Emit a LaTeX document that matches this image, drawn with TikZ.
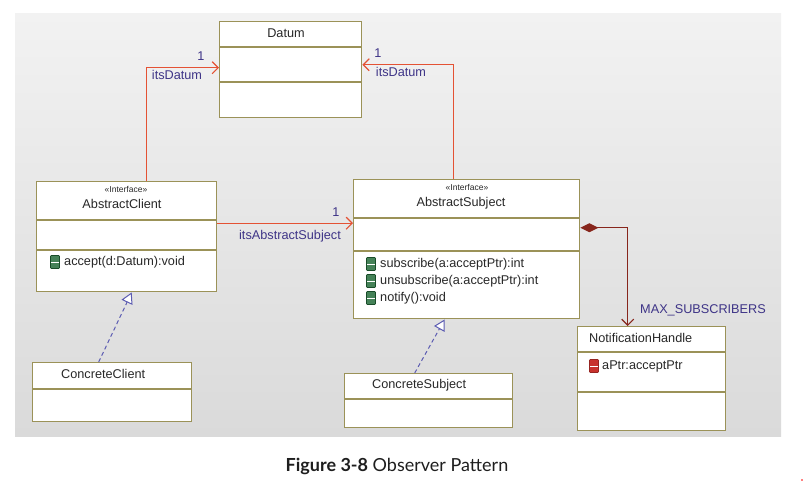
\documentclass[tikz,border=0pt]{standalone}
\usepackage{fontspec}
\setmainfont{Liberation Sans}
\newfontfamily\capfont{Lato}
\usetikzlibrary{arrows.meta}
\definecolor{boxline}{RGB}{155,146,88}
\definecolor{redconn}{RGB}{228,82,52}
\definecolor{darkred}{RGB}{135,38,28}
\definecolor{lblue}{RGB}{62,52,135}
\definecolor{dashblue}{RGB}{92,92,178}
\definecolor{txt}{RGB}{40,40,40}
\definecolor{opgreen}{RGB}{36,108,58}
\definecolor{attred}{RGB}{200,50,45}
\begin{document}
\begin{tikzpicture}[x=1pt,y=-1pt,
  classbox/.style={draw=boxline,line width=1.4pt,fill=white,inner sep=0pt,anchor=north west},
  sep/.style={draw=boxline,line width=1.2pt},
  nm/.style={text=txt,inner sep=0pt,font=\fontsize{12.7}{14}\selectfont},
  stereo/.style={text=txt,inner sep=0pt,font=\fontsize{8.5}{10}\selectfont},
  lbl/.style={text=lblue,inner sep=0pt,font=\fontsize{12.7}{14}\selectfont},
  assoc/.style={draw=redconn,line width=1.2pt,-{Straight Barb[length=6pt,width=12pt,line width=1.2pt]}},
  compo/.style={draw=darkred,line width=1.2pt,{Diamond[length=18pt,width=9pt,fill=darkred]}-{Straight Barb[length=6pt,width=12pt,line width=1.2pt]}},
  realize/.style={draw=dashblue,line width=1pt,dash pattern=on 4pt off 3pt,-{Triangle[open,length=11pt,width=12pt,line width=1pt,fill=white]}},
  opicon/.pic={\filldraw[fill=opgreen!85!white,draw=opgreen!70!black,line width=0.6pt,rounded corners=0.7pt] (-4.5,-6.5) rectangle (4.5,6.5);
               \draw[white,line width=1.5pt] (-3.8,0.3) -- (3.8,0.3);},
  aticon/.pic={\filldraw[fill=attred,draw=attred!75!black,line width=0.6pt,rounded corners=0.7pt] (-4.5,-6.5) rectangle (4.5,6.5);
               \draw[white,line width=1.5pt] (-3.8,0.3) -- (3.8,0.3);}
]
\useasboundingbox (0,0) rectangle (804,493);
\fill[white] (0,0) rectangle (804,493);
\shade[top color={rgb,255:red,242;green,242;blue,242},bottom color={rgb,255:red,218;green,218;blue,218}] (15,13) rectangle (781,436);

% Datum
\node[classbox,minimum width=142pt,minimum height=96pt] (datum) at (219,21) {};
\draw[sep] (219,47) -- (361,47);
\draw[sep] (219,82) -- (361,82);
\node[nm] (datumname) at (286,33) {Datum};

% AbstractClient
\node[classbox,minimum width=180pt,minimum height=110pt] (aclient) at (36,181) {};
\draw[sep] (36,220) -- (216,220);
\draw[sep] (36,250) -- (216,250);
\node[stereo] (acst) at (126,189) {«Interface»};
\node[nm] (acname) at (122,204) {AbstractClient};
\pic at (55,262) {opicon};
\node[nm,anchor=west] (acop) at (64,262) {accept(d:Datum):void};

% AbstractSubject
\node[classbox,minimum width=226pt,minimum height=139pt] (asubj) at (353,179) {};
\draw[sep] (353,218) -- (579,218);
\draw[sep] (353,251) -- (579,251);
\node[stereo] (asst) at (467,187) {«Interface»};
\node[nm] (asname) at (461,203) {AbstractSubject};
\pic at (371,264) {opicon};
\pic at (371,281) {opicon};
\pic at (371,298) {opicon};
\node[nm,anchor=west] (asop1) at (380,264) {subscribe(a:acceptPtr):int};
\node[nm,anchor=west] (asop2) at (380,281) {unsubscribe(a:acceptPtr):int};
\node[nm,anchor=west] (asop3) at (380,298) {notify():void};

% NotificationHandle
\node[classbox,minimum width=148pt,minimum height=104pt] (notif) at (577,326) {};
\draw[sep] (577,352) -- (725,352);
\draw[sep] (577,392) -- (725,392);
\node[nm,anchor=west] (nhname) at (589,338) {NotificationHandle};
\pic at (594,366) {aticon};
\node[nm,anchor=west] (nhat) at (602,366) {aPtr:acceptPtr};

% ConcreteClient
\node[classbox,minimum width=159pt,minimum height=59pt] (cclient) at (32,362) {};
\draw[sep] (32,389) -- (191,389);
\node[nm,anchor=west] (ccname) at (61,374) {ConcreteClient};

% ConcreteSubject
\node[classbox,minimum width=168pt,minimum height=54pt] (csubj) at (344,373) {};
\draw[sep] (344,399) -- (512,399);
\node[nm,anchor=west] (csname) at (372,385) {ConcreteSubject};

% associations to Datum
\draw[assoc] ([xshift=20pt]aclient.north) |- ([yshift=2pt]datum.west);
\node[lbl] (l1a) at (201,56) {1};
\node[lbl] (l1b) at (177,75) {itsDatum};
\draw[assoc] ([xshift=-13pt]asubj.north) |- ([yshift=5pt]datum.east);
\node[lbl] (l2a) at (378,53) {1};
\node[lbl] (l2b) at (401,72) {itsDatum};

% AbstractClient -> AbstractSubject
\coordinate (acr) at ([yshift=13.5pt]aclient.east);
\draw[assoc] (acr) -- (acr -| asubj.west);
\node[lbl] (l3a) at (336,212) {1};
\node[lbl] (l3b) at (290,236) {itsAbstractSubject};

% composition
\coordinate (asr) at ([yshift=21.5pt]asubj.east);
\draw[compo] (asr) -| ([xshift=-24pt]notif.north);
\node[lbl,anchor=west] (l4) at (640,310) {MAX\_SUBSCRIBERS};

% realizations
\draw[realize] ([xshift=-13.5pt]cclient.north) -- ([xshift=5pt]aclient.south);
\draw[realize] ([xshift=-14pt]csubj.north) -- ([xshift=-22pt]asubj.south);

% caption
\node[inner sep=0pt,text={rgb,255:red,30;green,30;blue,30},font=\capfont\fontsize{18}{21}\selectfont] (cap) at (397,466) {\textbf{Figure 3-8} Observer Pattern};
\fill[red] (802,480) circle (0.9);
\end{tikzpicture}
\end{document}
